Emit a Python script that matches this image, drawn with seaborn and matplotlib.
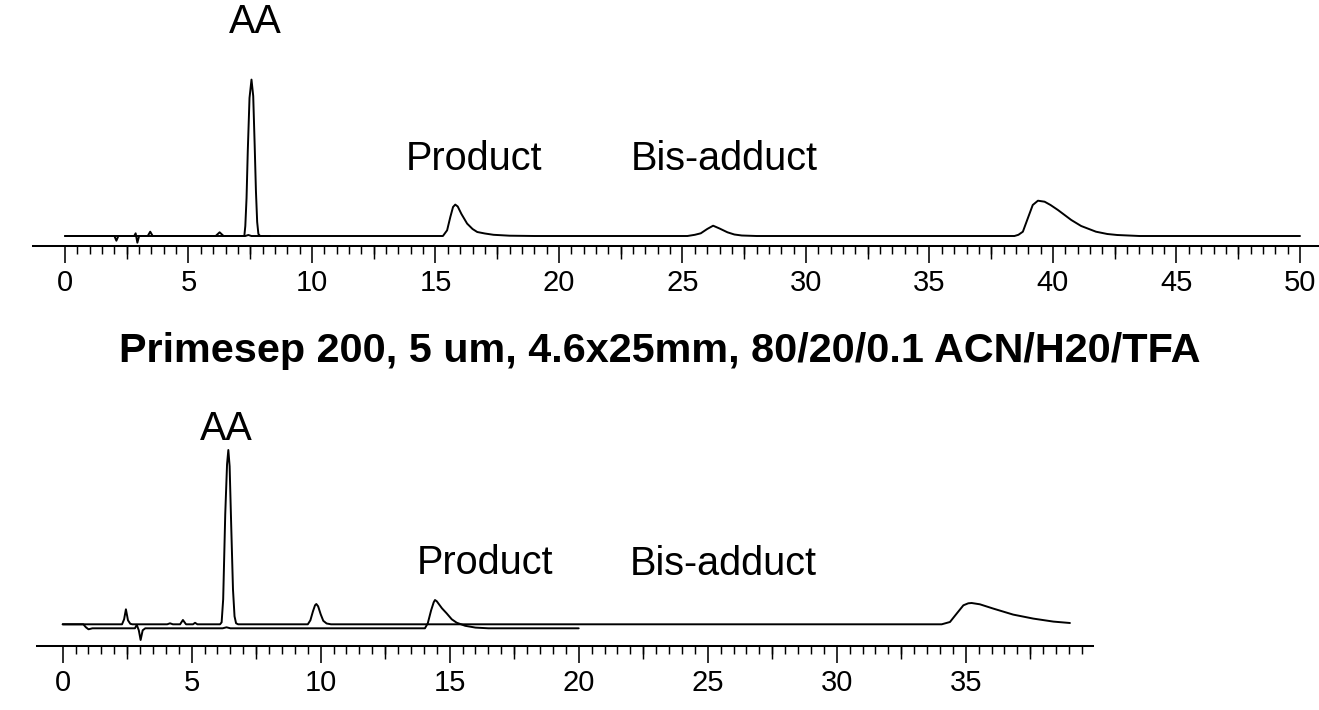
import matplotlib
matplotlib.use("Agg")
import matplotlib.pyplot as plt
import numpy as np
import pandas as pd
import seaborn as sns
from matplotlib.ticker import FixedLocator

# ---- Upper chromatogram (retention time in min, detector signal in arbitrary units) ----
top_std_time = [0, 2.0, 2.08, 2.16, 2.8, 2.86, 2.93, 3.0, 3.35, 3.45, 3.55, 6.1, 6.26, 6.42,
                7.2, 7.26, 7.30, 7.35, 7.40, 7.47, 7.55, 7.62, 7.68, 7.73, 7.78, 7.83, 7.9, 8.3]
top_std_signal = [0, 0, -4.7, 0, 0, 2.7, -6.7, 0, 0, 4.3, 0, 0, 3.7, 0,
                  0, 0, 10, 38, 85, 138, 156.4, 140, 90, 45, 14, 2, 0, 0]

top_run_time = [0, 7.3, 7.42, 7.55, 15.3, 15.47, 15.6, 15.71, 15.8, 15.9, 16.05, 16.28, 16.5,
                16.69, 17.0, 17.35, 18.0, 19.0, 25.2, 25.5, 25.74, 26.0, 26.24, 26.5, 26.82,
                27.1, 27.4, 28.0, 38.44, 38.6, 38.78, 38.98, 39.18, 39.39, 39.66, 39.9, 40.2,
                40.74, 41.14, 41.74, 42.2, 42.6, 43.5, 50.0]
top_run_signal = [0, 0, 1.0, 0, 0, 5.7, 19, 29, 31.4, 29.5, 22, 12.4, 7,
                  4, 2.5, 1.2, 0.3, 0, 0, 1.2, 2.7, 7, 10.3, 7.5, 3.7,
                  1.5, 0.5, 0, 0, 1.2, 4.3, 17.7, 31, 35.3, 34.3, 31, 26,
                  16, 10, 4.3, 2, 1, 0, 0]

# ---- Lower chromatogram ----
bot_run_time = [0, 2.3, 2.38, 2.45, 2.53, 2.62, 2.7, 4.05, 4.16, 4.27, 4.55, 4.66, 4.78,
                5.05, 5.13, 5.22, 6.1, 6.16, 6.22, 6.30, 6.37, 6.42, 6.47, 6.53, 6.60,
                6.66, 6.72, 6.8, 9.5, 9.6, 9.7, 9.78, 9.83, 9.9, 10.0, 10.1, 10.23, 10.4,
                34.07, 34.39, 34.65, 34.91, 35.1, 35.23, 35.55, 36.07, 36.84, 37.62,
                38.4, 39.04]
bot_run_signal = [0, 0, 5, 15, 4, 0.5, 0, 0, 1, 0, 0, 4.3, 0,
                  0, 1.5, 0, 0, 2, 25, 110, 160, 174.3, 158, 100, 35,
                  8, 1, 0, 0, 4, 13, 19, 20.3, 18, 10, 3.5, 0.8, 0,
                  0, 2.3, 10.7, 19, 21, 21.3, 20, 15.7, 9.7, 5.7,
                  2.7, 1.3]

bot_ref_time = [0, 0.8, 0.9, 1.0, 1.15, 2.8, 2.87, 2.95, 3.02, 3.1, 3.2, 6.2, 6.35, 6.5,
                14.04, 14.15, 14.28, 14.38, 14.43, 14.5, 14.7, 14.88, 15.08, 15.27,
                15.6, 16.0, 16.5, 20.0]
bot_ref_signal = [0, 0, -3, -5, -4, -4, -0.5, -6, -15.7, -6, -4, -4, -3, -4,
                  -4, 1, 14, 22, 24.3, 23, 16, 11, 5, 1.6,
                  -1.5, -3.3, -4, -4]

peak_names = ["AA", "Product", "Bis-adduct"]
column_title = "Primesep 200, 5 um, 4.6x25mm, 80/20/0.1 ACN/H20/TFA"

top_major = list(range(0, 51, 5))
bot_major = list(range(0, 36, 5))

sns.set_theme(style="ticks")
plt.rcParams["font.family"] = ["Liberation Sans", "DejaVu Sans"]

W, H = 1319, 710
fig = plt.figure(figsize=(W / 100, H / 100), dpi=100)
fig.patch.set_facecolor("white")


def add_px_axes(left, right, top, bottom):
    return fig.add_axes([left / W, (H - bottom) / H, (right - left) / W, (bottom - top) / H])


def draw_trace(ax, t, s):
    df = pd.DataFrame({"time": t, "signal": s})
    sns.lineplot(data=df, x="time", y="signal", ax=ax, color="black", lw=1.4,
                 estimator=None, sort=False)


def style_time_axis(ax, majors, minor_end, bounds):
    for side in ("top", "right", "left"):
        ax.spines[side].set_visible(False)
    ax.spines["bottom"].set_bounds(*bounds)
    ax.spines["bottom"].set_linewidth(1.45)
    ax.spines["bottom"].set_color("black")
    ax.set_yticks([])
    ax.set_xlabel("")
    ax.set_ylabel("")
    ax.set_facecolor("none")
    ax.xaxis.set_major_locator(FixedLocator(majors))
    ax.set_xticklabels([str(m) for m in majors])
    ax.xaxis.set_minor_locator(FixedLocator(np.arange(0, minor_end + 0.01, 0.5)))
    ax.tick_params(axis="x", which="major", bottom=True, direction="out", length=12.2,
                   width=1.15, color="black", labelsize=21, pad=4.5, labelcolor="black")
    ax.tick_params(axis="x", which="minor", bottom=True, direction="out", length=6.1,
                   width=1.05, color="black")
    sec = ax.secondary_xaxis("bottom")
    sec.set_xticks([m + 2.5 for m in majors if m + 2.5 <= minor_end])
    sec.tick_params(axis="x", which="major", direction="out", length=9.7, width=1.05,
                    color="black", labelbottom=False)
    sec.tick_params(axis="x", which="minor", bottom=False)
    sec.spines["bottom"].set_visible(False)


# Upper panel
ax1 = add_px_axes(0, W, 0, 246)
draw_trace(ax1, top_std_time, top_std_signal)
draw_trace(ax1, top_run_time, top_run_signal)
ax1.set_xlim(-65 / 24.7, (W - 65) / 24.7)
ax1.set_ylim(-10, 236)
style_time_axis(ax1, top_major, 50, (-1.29, 51.5))
txt = dict(fontsize=28.5, ha="center", va="baseline", color="black")
ax1.text(7.7, 203, peak_names[0], **txt)
ax1.text(16.54, 66, peak_names[1], **txt)
ax1.text(26.69, 66, peak_names[2], **txt)

# Lower panel
ax2 = add_px_axes(0, W, 380, 646)
draw_trace(ax2, bot_ref_time, bot_ref_signal)
draw_trace(ax2, bot_run_time, bot_run_signal)
ax2.set_xlim(-62.7 / 25.8, (W - 62.7) / 25.8)
ax2.set_ylim(-21.7, 244.3)
style_time_axis(ax2, bot_major, 39.5, (-1.01, 39.95))
ax2.text(6.33, 184.3, peak_names[0], **txt)
ax2.text(16.36, 50, peak_names[1], **txt)
ax2.text(25.61, 49.3, peak_names[2], **txt)

fig.text(660 / W, (H - 362) / H, column_title, fontsize=29.8, fontweight="bold",
         ha="center", va="baseline", color="black")

fig.savefig("out.png", dpi=100, facecolor="white")
